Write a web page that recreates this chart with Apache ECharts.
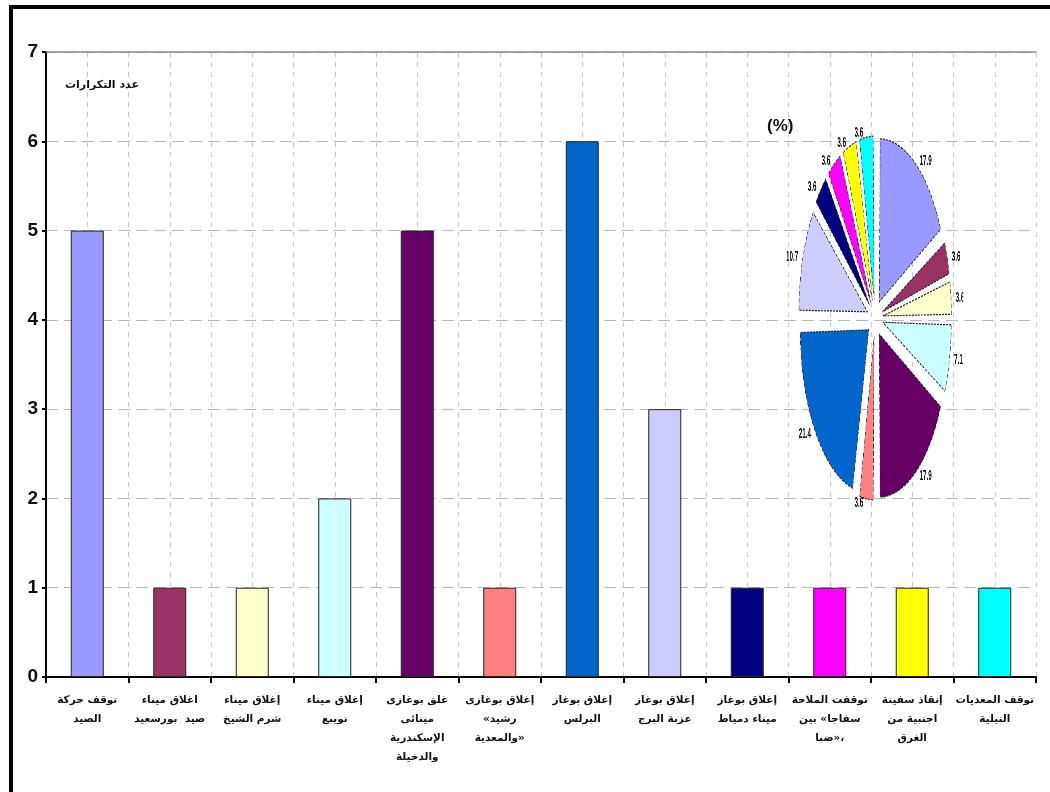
<!DOCTYPE html>
<html>
<head>
<meta charset="utf-8">
<script src="https://cdn.jsdelivr.net/npm/echarts@6/dist/echarts.min.js"></script>
<style>
  html, body { margin: 0; padding: 0; background: #fff; }
  #wrap { position: relative; width: 1050px; height: 792px; overflow: hidden; background: #fff; }
  #frame { position: absolute; left: 9px; top: 5px; width: 1100px; height: 900px;
           border-left: 4px solid #000; border-top: 4px solid #000; box-sizing: border-box; }
  #main { position: absolute; left: 0; top: 0; width: 1050px; height: 792px; }
  #pie { position: absolute; width: 420px; height: 420px; left: 665px; top: 108px;
         transform: scaleX(0.42); transform-origin: 210px 210px; }
</style>
</head>
<body>
<div id="wrap">
  <div id="frame"></div>
  <div id="main"></div>
  <div id="pie"></div>
</div>
<script>
// Incidents, one entry per line of the axis label.
// A line given as an array lists its pieces from left to right
// (used where quotation marks sit beside Arabic words).
const categories = [
  ['توقف حركة', 'الصيد'],
  ['اغلاق ميناء', 'صيد  بورسعيد'],
  ['إغلاق ميناء', 'شرم الشيخ'],
  ['إغلاق ميناء', 'نويبع'],
  ['غلق بوغازى', 'مينائى', 'الإسكندرية', 'والدخيلة'],
  ['إغلاق بوغازى', ['«', 'رشيد'], ['والمعدية', '»']],
  ['إغلاق بوغاز', 'البرلس'],
  ['إغلاق بوغاز', 'عزبة البرج'],
  ['إغلاق بوغاز', 'ميناء دمياط'],
  ['توقفت الملاحة', ['بين', ' «', 'سفاجا'], ['ضبا', '»', '،']],
  ['إنقاذ سفينة', 'اجنبية من', 'الغرق'],
  ['توقف المعديات', 'النيلية']
];
// Number of occurrences of each incident
const counts = [5, 1, 1, 2, 5, 1, 6, 3, 1, 1, 1, 1];
// Share of each incident (%)
const percents = [17.9, 3.6, 3.6, 7.1, 17.9, 3.6, 21.4, 10.7, 3.6, 3.6, 3.6, 3.6];
const yTicks = [0, 1, 2, 3, 4, 5, 6, 7];
const colors = ['#9999FF', '#993366', '#FFFFCC', '#CCFFFF', '#660066', '#FF8080',
                '#0066CC', '#CCCCFF', '#000080', '#FF00FF', '#FFFF00', '#00FFFF'];

const arFont = '"DejaVu Sans", "Liberation Sans", sans-serif';
const numFont = '"Liberation Sans Narrow", "Liberation Sans", Arial, sans-serif';

const LRM = '\u200E';
const isPunct = s => !/[\u0600-\u06FF]/.test(s);
const lineText = line => Array.isArray(line) ? line.join('') : line;
// Rich-text markup: each piece is its own token, so pieces stay in the listed order
const lineMarkup = line => (Array.isArray(line) ? line : [line])
  .map(p => '{t|' + (isPunct(p) ? LRM + p + LRM : p) + '}').join('');

const names = categories.map(c => c.map(lineText).join('\n'));

const labelStyle = { fontFamily: arFont, fontSize: 10.5, fontWeight: 'bold', color: '#111', lineHeight: 19 };

const main = echarts.init(document.getElementById('main'), null, { renderer: 'canvas' });
main.setOption({
  animation: false,
  backgroundColor: 'transparent',
  title: {
    text: 'عدد التكرارات',
    left: 60, top: 75,
    textStyle: { fontFamily: arFont, fontSize: 11, fontWeight: 'bold', color: '#111' }
  },
  graphic: [{
    type: 'text', left: 767, top: 118,
    style: { text: '(%)', fontFamily: numFont, fontSize: 17, fontWeight: 'bold', fill: '#111' }
  }],
  grid: { left: 46, right: 14, top: 52, bottom: 115 },
  xAxis: [{
    type: 'category',
    data: names,
    axisLine: { lineStyle: { color: '#000', width: 2 } },
    axisTick: { show: true, length: 6, lineStyle: { color: '#000', width: 2 } },
    axisLabel: Object.assign({
      interval: 0, margin: 14,
      formatter: (value, idx) => categories[idx].map(lineMarkup).join('\n'),
      rich: { t: labelStyle }
    }, labelStyle),
    splitLine: { show: false }
  }, {
    type: 'value', position: 'top', min: 0, max: 24, interval: 1,
    axisLine: { show: true, onZero: false, lineStyle: { color: '#888', width: 1.5 } },
    axisTick: { show: false },
    axisLabel: { show: false },
    splitLine: { show: true, lineStyle: { color: '#c8c8c8', type: [5, 5], width: 1 } }
  }],
  yAxis: {
    type: 'value', min: yTicks[0], max: yTicks[yTicks.length - 1], interval: 1,
    axisLine: { show: true, lineStyle: { color: '#000', width: 2 } },
    axisTick: { show: true, length: 4, lineStyle: { color: '#000', width: 2 } },
    axisLabel: { margin: 8, fontFamily: numFont, fontSize: 19, fontWeight: 'bold', color: '#111' },
    splitLine: { show: true, lineStyle: { color: '#b8b8b8', type: [12, 6], width: 1 } }
  },
  series: [{
    type: 'bar',
    xAxisIndex: 0,
    barWidth: '40%',
    data: counts.map((v, i) => ({
      value: v,
      itemStyle: { color: colors[i], borderColor: '#222', borderWidth: 1 }
    }))
  }]
});

const pie = echarts.init(document.getElementById('pie'), null, { renderer: 'canvas' });
pie.setOption({
  animation: false,
  series: [{
    type: 'pie',
    center: ['50%', '50%'],
    radius: ['0%', 163],
    startAngle: 90,
    clockwise: true,
    padAngle: 1.5,
    selectedMode: 'multiple',
    selectedOffset: 19,
    avoidLabelOverlap: false,
    label: {
      show: true, position: 'outside',
      formatter: p => p.value.toFixed(1),
      fontFamily: numFont, fontSize: 15, fontWeight: 'bold', color: '#111'
    },
    labelLine: { show: false, length: 4, length2: 2 },
    itemStyle: { borderColor: '#222', borderWidth: 1.2, borderType: 'dashed' },
    emphasis: { disabled: true },
    data: percents.map((v, i) => ({
      value: v, selected: true, itemStyle: { color: colors[i] }
    }))
  }]
});
</script>
</body>
</html>
